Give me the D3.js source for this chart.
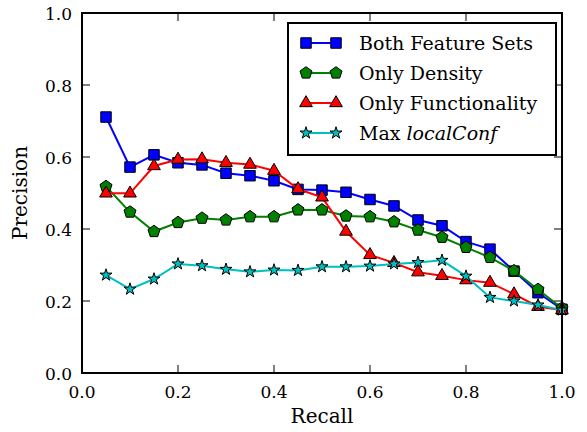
<!DOCTYPE html>
<html lang="en">
<head>
<meta charset="UTF-8">
<title>Precision vs Recall</title>
</head>
<body style="margin:0; background:#fff">
<svg width="587" height="432"></svg>
<script src="https://d3js.org/d3.v7.min.js"></script>
<script>
// recall levels and precision per method
var recall = [0.05, 0.1, 0.15, 0.2, 0.25, 0.3, 0.35, 0.4, 0.45, 0.5,
              0.55, 0.6, 0.65, 0.7, 0.75, 0.8, 0.85, 0.9, 0.95, 1.0];
var bothFeatures = [0.711, 0.572, 0.606, 0.584, 0.578, 0.555, 0.548, 0.534, 0.51, 0.508,
                    0.502, 0.482, 0.464, 0.425, 0.409, 0.365, 0.344, 0.283, 0.223, 0.177];
var onlyDensity = [0.518, 0.447, 0.393, 0.418, 0.43, 0.425, 0.434, 0.434, 0.453, 0.453,
                   0.436, 0.434, 0.42, 0.397, 0.377, 0.349, 0.321, 0.284, 0.232, 0.18];
var onlyFunc = [0.499, 0.499, 0.575, 0.593, 0.594, 0.584, 0.579, 0.562, 0.511, 0.488,
                0.393, 0.328, 0.306, 0.28, 0.27, 0.258, 0.251, 0.219, 0.184, 0.175];
var maxLocalConf = [0.272, 0.233, 0.261, 0.303, 0.298, 0.288, 0.281, 0.286, 0.285, 0.295,
                    0.295, 0.297, 0.303, 0.307, 0.313, 0.269, 0.21, 0.2, 0.189, 0.175];
var ticks = [0, 0.2, 0.4, 0.6, 0.8, 1.0];

var FONT = 'DejaVu Serif';
var margin = {top: 13, right: 25, bottom: 59, left: 82};
var svg = d3.select('svg');
var width = +svg.attr('width') - margin.left - margin.right;
var height = +svg.attr('height') - margin.top - margin.bottom;

var x = d3.scaleLinear().domain([0, 1]).range([0, width]);
var y = d3.scaleLinear().domain([0, 1]).range([height, 0]);

var g = svg.append('g').attr('transform', `translate(${margin.left},${margin.top})`);

// pentagon marker (pointing up)
var pentagon = {
  draw: function(ctx, size) {
    var r = Math.sqrt(size / 2.378);
    for (var i = 0; i < 5; i++) {
      var a = -Math.PI / 2 + i * 2 * Math.PI / 5;
      if (i === 0) ctx.moveTo(r * Math.cos(a), r * Math.sin(a));
      else ctx.lineTo(r * Math.cos(a), r * Math.sin(a));
    }
    ctx.closePath();
  }
};

var series = [
  {name: 'Both Feature Sets', values: bothFeatures, color: '#0000ff', symbol: d3.symbolSquare, size: 110},
  {name: 'Only Density', values: onlyDensity, color: '#008000', symbol: pentagon, size: 95},
  {name: 'Only Functionality', values: onlyFunc, color: '#ff0000', symbol: d3.symbolTriangle, size: 70},
  {name: 'Max ', italic: 'localConf', values: maxLocalConf, color: '#00bfbf', symbol: d3.symbolStar, size: 45}
];

// ticks (inward, all four sides)
var tickLen = 8;
var tg = g.append('g').attr('stroke', '#000').attr('stroke-width', 1);
ticks.forEach(function(t) {
  tg.append('line').attr('x1', x(t)).attr('x2', x(t)).attr('y1', height).attr('y2', height - tickLen);
  tg.append('line').attr('x1', x(t)).attr('x2', x(t)).attr('y1', 0).attr('y2', tickLen);
  tg.append('line').attr('x1', 0).attr('x2', tickLen).attr('y1', y(t)).attr('y2', y(t));
  tg.append('line').attr('x1', width).attr('x2', width - tickLen).attr('y1', y(t)).attr('y2', y(t));
});

g.selectAll('.xlab').data(ticks).enter().append('text')
  .attr('x', d => x(d)).attr('y', height + 25)
  .attr('text-anchor', 'middle').attr('font-size', 17)
  .attr('font-family', FONT)
  .text(d => d.toFixed(1));
g.selectAll('.ylab').data(ticks).enter().append('text')
  .attr('x', -10).attr('y', d => y(d) + 7)
  .attr('text-anchor', 'end').attr('font-size', 17)
  .attr('font-family', FONT)
  .text(d => d.toFixed(1));

g.append('text').attr('x', width / 2).attr('y', height + 50)
  .attr('text-anchor', 'middle').attr('font-size', 20)
  .attr('font-family', FONT).text('Recall');
g.append('text').attr('transform', `translate(-55,${height / 2}) rotate(-90)`)
  .attr('text-anchor', 'middle').attr('font-size', 20)
  .attr('font-family', FONT).text('Precision');

var line = d3.line().x((d, i) => x(recall[i])).y(d => y(d));

series.forEach(function(s) {
  g.append('path').datum(s.values)
    .attr('fill', 'none').attr('stroke', s.color).attr('stroke-width', 2)
    .attr('d', line);
  g.selectAll(null).data(s.values).enter().append('path')
    .attr('transform', (d, i) => `translate(${x(recall[i])},${y(d)})`)
    .attr('d', d3.symbol().type(s.symbol).size(s.size))
    .attr('fill', s.color).attr('stroke', '#000').attr('stroke-width', 1);
});

// frame
g.append('rect').attr('width', width).attr('height', height)
  .attr('fill', 'none').attr('stroke', '#000').attr('stroke-width', 2);

// legend
var lg = g.append('g').attr('transform', 'translate(206,10)');
lg.append('rect').attr('width', 268).attr('height', 132)
  .attr('fill', '#fff').attr('stroke', '#000').attr('stroke-width', 2);
series.forEach(function(s, i) {
  var ly = 20 + i * 30;
  lg.append('line').attr('x1', 18).attr('x2', 48).attr('y1', ly).attr('y2', ly)
    .attr('stroke', s.color).attr('stroke-width', 2);
  [18, 48].forEach(function(mx) {
    lg.append('path').attr('transform', `translate(${mx},${ly})`)
      .attr('d', d3.symbol().type(s.symbol).size(s.size))
      .attr('fill', s.color).attr('stroke', '#000').attr('stroke-width', 1);
  });
  var t = lg.append('text').attr('x', 71).attr('y', ly + 7).attr('font-size', 19)
    .attr('font-family', FONT);
  t.append('tspan').attr('font-family', FONT).text(s.name);
  if (s.italic) t.append('tspan').attr('font-family', FONT).attr('font-style', 'italic').text(s.italic);
});
</script>
</body>
</html>
